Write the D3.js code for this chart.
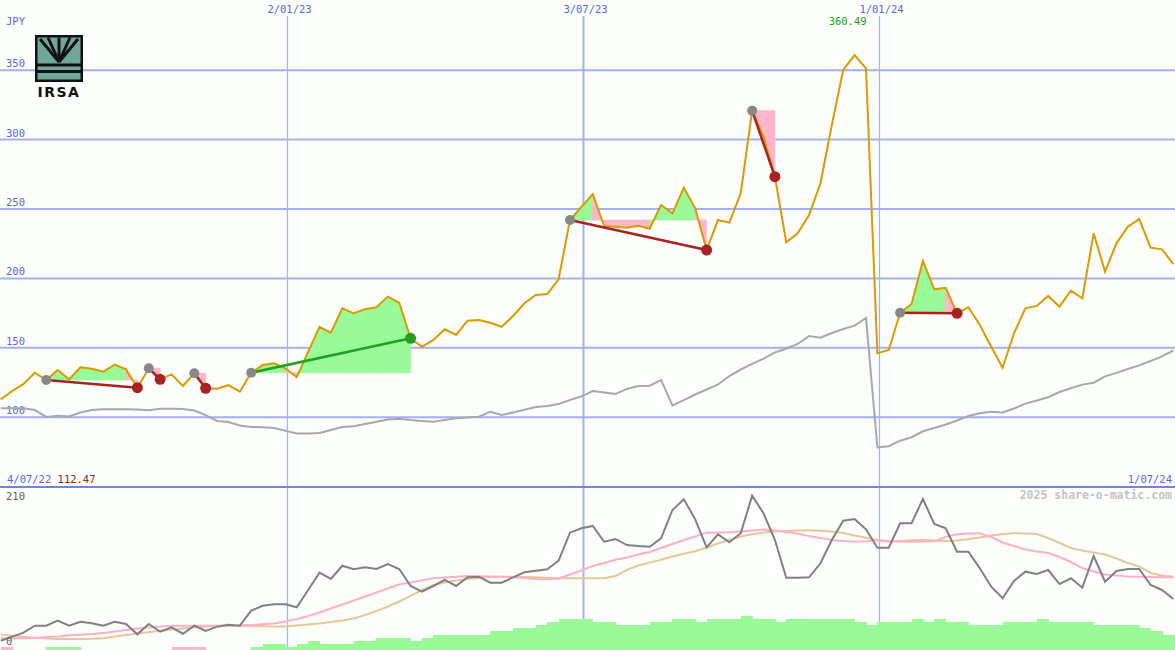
<!DOCTYPE html>
<html><head><meta charset="utf-8">
<script src="https://cdn.jsdelivr.net/npm/d3@7"></script>
<style>html,body{margin:0;padding:0;background:#fcfefc;overflow:hidden}svg{display:block}</style>
</head><body>
<svg id="c" width="1175" height="650"></svg>
<script>
// ---------- data ----------
const currency = "JPY";
const ticker = "IRSA";
const startLabel = "4/07/22";
const endLabel = "1/07/24";
const dateTicks = [new Date(2023,0,2), new Date(2023,6,3), new Date(2024,0,1)];
const dateTickLabels = ["2/01/23","3/07/23","1/01/24"];
const priceTicks = [100,150,200,250,300,350];
const lowerTicks = [0,210];
const dates = d3.timeWeek.range(new Date(2022,6,10), new Date(2024,6,1));

const price = [112.47,118.5,123.6,131.7,126.4,133.6,126.9,135.6,134.6,132.4,
137.5,134.1,120.9,134.9,126.9,130.5,122.1,131.3,120.5,120.2,
122.8,118.0,131.7,137.2,138.5,134.9,128.4,146.6,164.8,160.5,
178.1,174.5,177.4,178.8,186.5,182.1,156.5,150.4,155.3,163.0,
158.9,169.2,169.7,167.7,164.8,172.6,181.7,187.7,188.4,199.0,
241.7,251.1,260.4,237.4,236.9,236.2,237.6,235.4,252.5,246.5,
265.0,250.1,220.1,241.7,239.8,261.0,320.5,301.7,272.9,225.6,
232.1,245.3,268.2,310.2,349.8,360.49,351.0,145.7,148.1,174.9,
181.2,212.2,191.8,192.9,174.5,178.8,166.1,150.4,135.3,160.1,
178.1,179.8,187.0,179.3,190.8,185.3,232.1,204.5,224.9,236.9,
242.4,221.8,220.6,210.0];

const compare = [106.1,106.1,106.1,104.8,99.8,100.7,100.1,103.0,104.8,105.3,
105.3,105.3,105.2,104.6,105.8,105.8,105.5,104.5,101.2,96.9,
96.2,93.7,92.6,92.4,91.9,89.9,87.9,87.9,88.3,90.4,
92.6,93.1,94.7,96.4,98.0,98.6,97.6,96.9,96.4,97.6,
98.8,99.4,100.0,103.6,101.2,103.0,105.0,107.0,107.7,109.1,
112.0,114.6,118.5,117.4,116.4,120.0,122.1,122.3,126.4,108.1,
112.0,116.0,119.6,123.2,129.3,134.0,138.0,141.9,146.3,149.1,
152.4,158.1,156.9,160.3,163.2,165.6,171.1,77.8,78.7,82.7,
85.2,89.5,91.9,94.4,97.3,100.5,102.5,103.5,103.0,105.9,
109.4,111.7,114.0,117.8,120.5,123.1,124.5,129.1,131.6,134.4,
137.0,140.1,143.4,147.7];

const lowerLine = [12.2,17.5,22.7,31.9,31.9,38.5,31.9,37.1,35.0,31.9,
37.1,34.1,20.6,34.1,24.0,29.8,21.4,31.9,24.9,30.6,
33.2,31.9,51.6,58.1,60.0,60.0,56.0,78.8,101.5,93.2,
110.6,105.9,108.5,106.3,112.9,106.3,84.0,76.5,84.0,91.9,
84.0,95.4,96.2,88.3,88.3,95.4,102.0,104.1,105.9,117.2,
154.0,159.7,162.8,142.1,145.7,137.8,136.5,135.6,146.6,183.8,
197.8,171.5,134.8,151.9,141.4,153.2,202.5,179.4,144.4,94.9,
94.9,95.4,113.8,144.4,169.7,171.9,158.4,134.3,134.3,166.3,
166.3,198.2,165.4,159.7,129.0,129.0,107.2,83.1,67.9,90.6,
102.8,99.8,105.0,86.6,94.1,81.8,123.4,89.6,103.7,106.3,
106.3,85.3,78.8,66.9];

const lowerPink = [15.4,15.4,15.4,15.8,17.1,17.7,19.0,20.1,21.0,22.3,
24.3,26.3,28.2,29.5,30.8,31.9,31.9,31.9,31.9,31.9,
31.9,32.2,32.8,33.7,34.8,37.4,40.7,44.6,49.2,54.5,
59.7,65.0,70.2,75.5,80.7,86.0,88.6,91.5,94.1,95.2,
96.2,97.1,96.9,96.5,96.2,95.4,94.5,93.2,92.8,93.8,
99.1,104.3,110.3,114.2,118.4,121.4,125.3,128.6,133.9,139.1,
144.4,149.0,154.0,154.2,154.5,155.5,156.8,158.2,156.8,154.9,
152.9,149.6,147.0,144.4,143.1,142.1,142.7,144.0,143.1,142.4,
142.1,142.4,142.8,148.3,151.9,152.9,153.2,148.3,141.1,136.5,
131.9,129.3,127.3,122.1,115.5,107.6,103.0,99.1,97.8,96.5,
96.1,95.8,95.6,95.4];

const lowerTan = [20.3,18.8,17.3,16.0,15.1,14.4,14.4,14.4,14.7,15.5,
17.7,19.7,21.7,23.4,25.2,26.9,28.2,29.8,30.8,31.5,
31.9,31.9,31.5,31.1,30.7,30.8,32.2,33.5,34.8,36.8,
38.7,41.3,45.9,51.2,57.1,63.7,70.9,78.8,85.3,88.6,
91.2,93.2,94.5,95.8,96.2,96.1,95.8,95.4,94.8,94.2,
94.1,94.1,94.1,94.1,97.1,105.0,110.9,114.7,118.5,122.7,
126.4,129.7,134.5,139.8,144.6,149.0,151.9,154.2,155.5,156.2,
156.8,157.1,156.6,155.5,153.6,150.3,147.3,144.4,142.1,143.1,
144.0,144.4,143.7,142.7,143.7,145.7,147.7,150.3,152.3,153.2,
152.9,152.3,147.0,140.4,133.9,130.6,128.0,125.3,120.1,114.2,
109.6,101.1,97.8,96.2];

const bars = [-3.5,0,0,0,3.5,3.5,3.5,0,0,0,
0,0,0,0,0,-3.5,-3.5,-3.5,0,0,
0,0,3.5,7.9,7.9,4.3,7.9,11.8,7.9,7.9,
7.9,11.8,11.8,15.4,15.4,15.4,12.2,15.4,19.7,19.7,
19.7,19.7,19.7,24.9,24.9,28.9,28.9,32.8,36.8,40.7,
40.7,40.7,36.8,36.8,32.8,32.8,32.8,36.8,36.8,40.7,
40.7,36.8,40.7,40.7,40.7,44.6,40.7,40.7,36.8,40.7,
40.7,40.7,40.7,40.7,40.7,36.8,32.8,36.8,36.8,36.8,
40.7,36.8,40.7,36.8,36.8,32.8,32.8,32.8,36.8,36.8,
36.8,40.7,36.8,36.8,36.8,36.8,32.8,32.8,32.8,32.8,
28.9,24.9,19.7,19.7];

// trades: [entry week index, exit week index]
const trades = [[4,12],[13,14],[17,18],[22,36],[50,62],[66,68],[79,84]];

// ---------- drawing ----------
const W = 1175, H = 650;
const svg = d3.select("#c");
const FONT = "'DejaVu Sans Mono', monospace";
const C = {grid:"#a3b1f0", label:"#5566ee", orange:"#dd9900", gray:"#a8a8a8",
  dgray:"#808080", pink:"#ffb0c8", tan:"#e6c898", fillG:"#98fb98", fillP:"#ffb6c8",
  red:"#a82222", green:"#22a022", dot:"#888888"};

const x = d3.scaleTime().domain([new Date(2022,6,4), new Date(2024,6,1)]).range([-9, W]);
const y = d3.scaleLinear().domain([50,400]).range([486.1, 0.3]);
const yL = d3.scaleLinear().domain([0,210]).range([650, 490]);
const step = x(dates[1]) - x(dates[0]);

// horizontal grid (price axis)
const gAxis = svg.append("g")
  .call(d3.axisRight(y).tickValues(priceTicks).tickSize(W).tickFormat(d3.format("d")));
gAxis.select(".domain").remove();
gAxis.selectAll(".tick line").attr("stroke", C.grid).attr("stroke-width", 2);
gAxis.selectAll(".tick text").attr("x", 6).attr("dy", -3).attr("text-anchor","start")
  .attr("fill", C.label).style("font-family", FONT).style("font-size","10.5px");

// vertical date lines
const gX = svg.append("g")
  .call(d3.axisBottom(x).tickValues(dateTicks).tickSize(H-16).tickFormat((d,i)=>dateTickLabels[i]));
gX.select(".domain").remove();
gX.selectAll(".tick line").attr("y1", 16).attr("y2", H).attr("stroke", C.grid)
  .attr("stroke-width", (d,i)=> i===1 ? 2 : 1.2);
gX.selectAll(".tick text").attr("y", 13).attr("dy", 0).attr("dx", 2)
  .attr("fill", C.label).style("font-family", FONT).style("font-size","10.5px");

// currency label
svg.append("text").attr("x",6).attr("y",25).text(currency)
  .attr("fill", C.label).style("font-family", FONT).style("font-size","10.5px");

// trade fills
const gF = svg.append("g");
trades.forEach(([a,b]) => {
  const e = price[a];
  for (let k = a; k < b; k++) {
    const seg = [k, k+1];
    const area = d3.area().x(i => x(dates[i])).y0(y(e)).y1(i => y(price[i]));
    const col = price[k+1] >= e ? C.fillG : C.fillP;
    gF.append("path").attr("d", area(seg))
      .attr("fill", col).attr("stroke", col).attr("stroke-width", 0.8).attr("stroke-linejoin","miter");
  }
});

// lower panel bars
svg.append("g").attr("shape-rendering","crispEdges").selectAll("rect").data(bars).join("rect")
  .attr("x", (d,i) => x(dates[i]))
  .attr("width", step + 0.6)
  .attr("y", d => yL(Math.abs(d)))
  .attr("height", d => yL(0) - yL(Math.abs(d)))
  .attr("fill", d => d >= 0 ? C.fillG : C.fillP);

// lower lines
const lineL = arr => d3.line().x((d,i)=>x(dates[i])).y(d=>yL(d))(arr);
svg.append("path").attr("d", lineL(lowerTan)).attr("fill","none").attr("stroke",C.tan).attr("stroke-width",2);
svg.append("path").attr("d", lineL(lowerPink)).attr("fill","none").attr("stroke",C.pink).attr("stroke-width",2);
svg.append("path").attr("d", lineL(lowerLine)).attr("fill","none").attr("stroke",C.dgray).attr("stroke-width",2);

// main lines
const lineM = arr => d3.line().x((d,i)=>x(dates[i])).y(d=>y(d))(arr);
svg.append("path").attr("d", lineM(compare)).attr("fill","none").attr("stroke",C.gray).attr("stroke-width",2);
svg.append("path").attr("d", lineM(price)).attr("fill","none").attr("stroke",C.orange).attr("stroke-width",2);

// trade lines & dots
trades.forEach(([a,b]) => {
  const gain = price[b] >= price[a];
  svg.append("line").attr("x1", x(dates[a])).attr("y1", y(price[a]))
    .attr("x2", x(dates[b])).attr("y2", y(price[b]))
    .attr("stroke", gain ? C.green : C.red).attr("stroke-width", 2.5);
});
trades.forEach(([a,b]) => {
  const gain = price[b] >= price[a];
  svg.append("circle").attr("cx", x(dates[a])).attr("cy", y(price[a])).attr("r", 5).attr("fill", C.dot);
  svg.append("circle").attr("cx", x(dates[b])).attr("cy", y(price[b])).attr("r", 5.5).attr("fill", gain ? C.green : C.red);
});

// separator
svg.append("line").attr("x1",0).attr("x2",W).attr("y1",487).attr("y2",487)
  .attr("stroke","#7282ea").attr("stroke-width",2.2);

// bottom labels
const t1 = svg.append("text").attr("x",7).attr("y",483).style("font-family",FONT).style("font-size","10.5px");
t1.append("tspan").attr("fill",C.label).text(startLabel + " ");
t1.append("tspan").attr("fill","#a02020").text(d3.format(".2f")(price[0]));
svg.append("text").attr("x",1172).attr("y",483).attr("text-anchor","end").text(endLabel)
  .attr("fill",C.label).style("font-family",FONT).style("font-size","10.5px");

// max label
const iMax = d3.maxIndex(price);
svg.append("text").attr("x", x(dates[iMax]) + 12).attr("y", 25).attr("text-anchor","end")
  .text(d3.format(".2f")(price[iMax])).attr("fill", C.green)
  .style("font-family",FONT).style("font-size","10.5px");

// lower axis labels
svg.append("g").selectAll("text").data(lowerTicks).join("text")
  .attr("x",6).attr("y", d => d===0 ? 645 : 500).text(d => d)
  .attr("fill","#606060").style("font-family",FONT).style("font-size","10.5px");

// watermark
svg.append("text").attr("x",1172).attr("y",499).attr("text-anchor","end")
  .text("2025 share-o-matic.com").attr("fill","#c4c4c4")
  .style("font-family",FONT).style("font-size","11.5px").style("font-weight","bold");

// logo
const lg = svg.append("g");
lg.append("rect").attr("x",35).attr("y",35).attr("width",48).attr("height",47).attr("fill","#111");
lg.append("rect").attr("x",37.5).attr("y",37.5).attr("width",43).attr("height",26).attr("fill","#6fa898");
[[40,39],[48,37.5],[59,37.5],[70,37.5],[78,39]].forEach(([tx,ty]) => {
  lg.append("line").attr("x1",59).attr("y1",62).attr("x2",tx).attr("y2",ty)
    .attr("stroke","#111").attr("stroke-width",3);
});
lg.append("rect").attr("x",37.5).attr("y",66.5).attr("width",43).attr("height",3.5).attr("fill","#6fa898");
lg.append("rect").attr("x",37.5).attr("y",73).attr("width",43).attr("height",6.5).attr("fill","#6fa898");
lg.append("text").attr("x",59).attr("y",97).attr("text-anchor","middle").text(ticker)
  .attr("fill","#111").style("font-family","'DejaVu Sans', sans-serif").style("font-weight","bold")
  .style("font-size","14px").style("letter-spacing","1.5px");
</script>
</body></html>
